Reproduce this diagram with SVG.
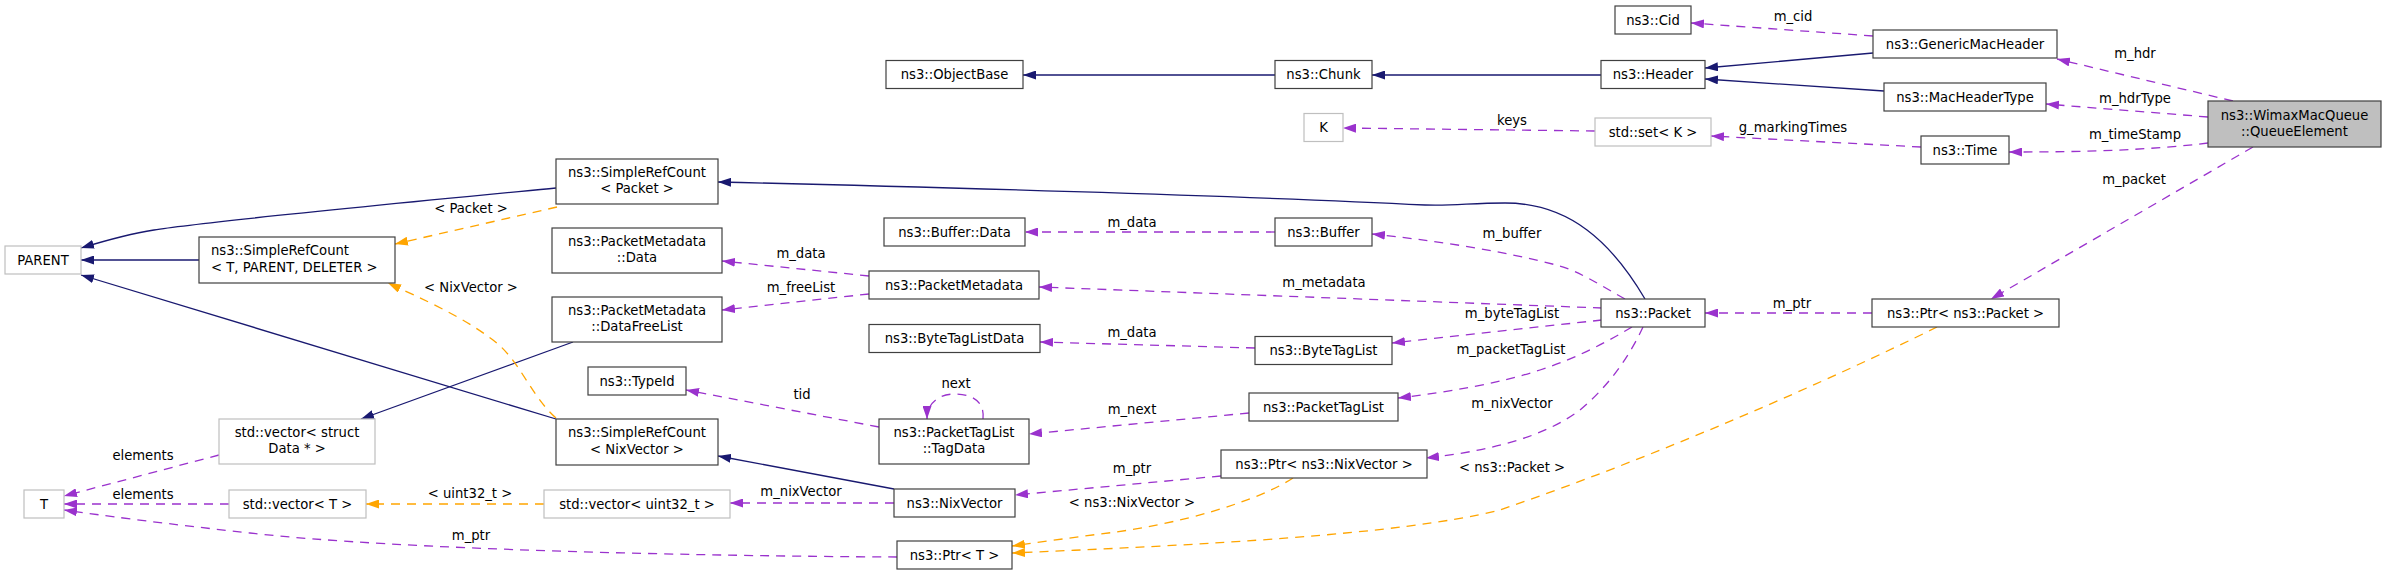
<svg xmlns="http://www.w3.org/2000/svg" width="2387" height="576" viewBox="0 0 2387 576">
<style>
text{font-family:"DejaVu Sans","Liberation Sans",sans-serif;font-size:13.2px;fill:#000}
.nt{text-anchor:middle}
.lb{text-anchor:middle}
.box{fill:#fff;stroke:#404040;stroke-width:1.2}
.ubox{fill:#fff;stroke:#bfbfbf;stroke-width:1.2}
.cur{fill:#bfbfbf;stroke:#404040;stroke-width:1.2}
.inh{fill:none;stroke:#191970;stroke-width:1.3;marker-end:url(#ab)}
.use{fill:none;stroke:#9a32cd;stroke-width:1.3;stroke-dasharray:9,7;marker-end:url(#ap)}
.tpl{fill:none;stroke:#ffa500;stroke-width:1.3;stroke-dasharray:9,7;marker-end:url(#ao)}
</style>
<defs>
<marker id="ab" markerUnits="userSpaceOnUse" markerWidth="13" markerHeight="9" viewBox="0 0 13 9" refX="13" refY="4.5" orient="auto"><path d="M0,0 L13,4.5 L0,9 z" fill="#191970"/></marker>
<marker id="ap" markerUnits="userSpaceOnUse" markerWidth="13" markerHeight="9" viewBox="0 0 13 9" refX="13" refY="4.5" orient="auto"><path d="M0,0 L13,4.5 L0,9 z" fill="#9a32cd"/></marker>
<marker id="ao" markerUnits="userSpaceOnUse" markerWidth="13" markerHeight="9" viewBox="0 0 13 9" refX="13" refY="4.5" orient="auto"><path d="M0,0 L13,4.5 L0,9 z" fill="#ffa500"/></marker>
</defs>
<rect width="2387" height="576" fill="#fff"/>
<g id="edges">
<path class="inh" d="M1275,75 L1023,75"/>
<path class="inh" d="M1601,75 L1372,75"/>
<path class="inh" d="M1873,53 L1705,68"/>
<path class="inh" d="M1884,91 L1705,79"/>
<path class="inh" d="M556,188 C390,204 200,222 154,230 C128,234 104,241 81,248"/>
<path class="inh" d="M199,260 L81,260"/>
<path class="inh" d="M556,419 L81,275"/>
<path class="inh" d="M573,342 L361,419"/>
<path class="inh" d="M894,489 L718,456"/>
<path class="inh" d="M1645,299 C1612,243 1570,203 1505,203 C1470,203 1455,206 1425,205 C1250,196 900,186 718,182"/>

<path class="use" d="M1873,36 L1691,23"/>
<path class="use" d="M2233,101 L2057,59"/>
<path class="use" d="M2208,117 L2046,104"/>
<path class="use" d="M2208,143 C2150,150 2090,152 2009,152"/>
<path class="use" d="M2253,147 L1991,299"/>
<path class="use" d="M1921,147 L1711,136"/>
<path class="use" d="M1595,131 L1343,128"/>
<path class="use" d="M1872,313 L1705,313"/>
<path class="use" d="M1625,299 C1600,285 1580,272 1560,266 C1500,250 1430,240 1372,234"/>
<path class="use" d="M1602,308 L1039,287"/>
<path class="use" d="M1602,320 L1392,343"/>
<path class="use" d="M1632,327 C1610,340 1580,357 1540,370 C1500,383 1450,392 1398,398"/>
<path class="use" d="M1643,327 C1630,355 1610,385 1580,410 C1540,440 1480,452 1426,458"/>
<path class="use" d="M1275,232 L1025,232"/>
<path class="use" d="M1255,348 L1040,342"/>
<path class="use" d="M1249,413 L1029,434"/>
<path class="use" d="M1221,476 L1015,495"/>
<path class="use" d="M869,276 L722,261"/>
<path class="use" d="M869,294 L722,310"/>
<path class="use" d="M879,427 L686,390"/>
<path class="use" d="M983,419 C985,400 970,394 955,394 C940,394 927,402 927,419"/>
<path class="use" d="M894,503 L730,503"/>
<path class="use" d="M219,455 L64,496"/>
<path class="use" d="M229,504 L64,504"/>
<path class="use" d="M897,557 C700,556 400,550 250,533 C150,522 100,515 64,510"/>

<path class="tpl" d="M557,207 L395,244"/>
<path class="tpl" d="M556,418 C530,395 520,360 493,340 C460,315 420,298 388,283"/>
<path class="tpl" d="M544,504 L366,504"/>
<path class="tpl" d="M1293,478 C1260,500 1180,525 1100,534 C1070,538 1040,542 1012,546"/>
<path class="tpl" d="M1937,327 C1830,380 1660,455 1500,510 C1400,535 1200,545 1012,553"/>

<text class="lb" x="1793" y="21">m_cid</text>
<text class="lb" x="2135" y="58">m_hdr</text>
<text class="lb" x="2135" y="103">m_hdrType</text>
<text class="lb" x="2135" y="139">m_timeStamp</text>
<text class="lb" x="2134" y="184">m_packet</text>
<text class="lb" x="1793" y="132">g_markingTimes</text>
<text class="lb" x="1512" y="125">keys</text>
<text class="lb" x="1792" y="308">m_ptr</text>
<text class="lb" x="1512" y="238">m_buffer</text>
<text class="lb" x="1324" y="287">m_metadata</text>
<text class="lb" x="1512" y="318">m_byteTagList</text>
<text class="lb" x="1511" y="354">m_packetTagList</text>
<text class="lb" x="1512" y="408">m_nixVector</text>
<text class="lb" x="1132" y="227">m_data</text>
<text class="lb" x="1132" y="337">m_data</text>
<text class="lb" x="1132" y="414">m_next</text>
<text class="lb" x="1132" y="473">m_ptr</text>
<text class="lb" x="801" y="258">m_data</text>
<text class="lb" x="801" y="292">m_freeList</text>
<text class="lb" x="802" y="399">tid</text>
<text class="lb" x="956" y="388">next</text>
<text class="lb" x="801" y="496">m_nixVector</text>
<text class="lb" x="143" y="460">elements</text>
<text class="lb" x="143" y="499">elements</text>
<text class="lb" x="471" y="540">m_ptr</text>
<text class="lb" x="471" y="213">&lt; Packet &gt;</text>
<text class="lb" x="471" y="292">&lt; NixVector &gt;</text>
<text class="lb" x="470" y="498">&lt; uint32_t &gt;</text>
<text class="lb" x="1132" y="507">&lt; ns3::NixVector &gt;</text>
<text class="lb" x="1512" y="472">&lt; ns3::Packet &gt;</text>
</g>

<g id="n_QueueElement"><rect class="cur" x="2208" y="101" width="173" height="46"/><text class="nt" x="2294.5" y="119.5">ns3::WimaxMacQueue</text><text class="nt" x="2294.5" y="136">::QueueElement</text></g>
<g id="n_GenericMacHeader"><rect class="box" x="1873" y="30" width="184" height="28"/><text class="nt" x="1965" y="48.5">ns3::GenericMacHeader</text></g>
<g id="n_Cid"><rect class="box" x="1615" y="6" width="76" height="28"/><text class="nt" x="1653" y="24.5">ns3::Cid</text></g>
<g id="n_Header"><rect class="box" x="1601" y="60.5" width="104" height="28"/><text class="nt" x="1653" y="79">ns3::Header</text></g>
<g id="n_Chunk"><rect class="box" x="1275" y="60.5" width="97" height="28"/><text class="nt" x="1323.5" y="79">ns3::Chunk</text></g>
<g id="n_ObjectBase"><rect class="box" x="886" y="60.5" width="137" height="28"/><text class="nt" x="954.5" y="79">ns3::ObjectBase</text></g>
<g id="n_MacHeaderType"><rect class="box" x="1884" y="83" width="162" height="28"/><text class="nt" x="1965" y="101.5">ns3::MacHeaderType</text></g>
<g id="n_K"><rect class="ubox" x="1304" y="113.5" width="39" height="28"/><text class="nt" x="1323.5" y="132">K</text></g>
<g id="n_setK"><rect class="ubox" x="1595" y="118" width="116" height="28"/><text class="nt" x="1653" y="136.5">std::set&lt; K &gt;</text></g>
<g id="n_Time"><rect class="box" x="1921" y="136" width="88" height="28"/><text class="nt" x="1965" y="154.5">ns3::Time</text></g>
<g id="n_SRCPacket"><rect class="box" x="556" y="159" width="162" height="45"/><text class="nt" x="637" y="176.5">ns3::SimpleRefCount</text><text class="nt" x="637" y="193">&lt; Packet &gt;</text></g>
<g id="n_PARENT"><rect class="ubox" x="5" y="246" width="76" height="28"/><text class="nt" x="43" y="264.5">PARENT</text></g>
<g id="n_SRCT"><rect class="box" x="199" y="237" width="196" height="46"/><text x="211" y="255">ns3::SimpleRefCount</text><text x="211" y="271.5">&lt; T, PARENT, DELETER &gt;</text></g>
<g id="n_BufferData"><rect class="box" x="884" y="218" width="141" height="28"/><text class="nt" x="954.5" y="236.5">ns3::Buffer::Data</text></g>
<g id="n_Buffer"><rect class="box" x="1275" y="218" width="97" height="28"/><text class="nt" x="1323.5" y="236.5">ns3::Buffer</text></g>
<g id="n_PMData"><rect class="box" x="552" y="228" width="170" height="45"/><text class="nt" x="637" y="245.5">ns3::PacketMetadata</text><text class="nt" x="637" y="262">::Data</text></g>
<g id="n_PacketMetadata"><rect class="box" x="869" y="271" width="170" height="28"/><text class="nt" x="954" y="289.5">ns3::PacketMetadata</text></g>
<g id="n_Packet"><rect class="box" x="1601" y="299" width="104" height="28"/><text class="nt" x="1653" y="317.5">ns3::Packet</text></g>
<g id="n_PtrPacket"><rect class="box" x="1872" y="299" width="187" height="28"/><text class="nt" x="1965.5" y="317.5">ns3::Ptr&lt; ns3::Packet &gt;</text></g>
<g id="n_DataFreeList"><rect class="box" x="552" y="297" width="170" height="45"/><text class="nt" x="637" y="314.5">ns3::PacketMetadata</text><text class="nt" x="637" y="331">::DataFreeList</text></g>
<g id="n_ByteTagListData"><rect class="box" x="869" y="324.5" width="171" height="28"/><text class="nt" x="954.5" y="343">ns3::ByteTagListData</text></g>
<g id="n_ByteTagList"><rect class="box" x="1255" y="336.5" width="137" height="28"/><text class="nt" x="1323.5" y="355">ns3::ByteTagList</text></g>
<g id="n_TypeId"><rect class="box" x="588" y="367" width="98" height="28"/><text class="nt" x="637" y="385.5">ns3::TypeId</text></g>
<g id="n_PacketTagList"><rect class="box" x="1249" y="393" width="149" height="28"/><text class="nt" x="1323.5" y="411.5">ns3::PacketTagList</text></g>
<g id="n_vecData"><rect class="ubox" x="219" y="419" width="156" height="45"/><text class="nt" x="297" y="436.5">std::vector&lt; struct</text><text class="nt" x="297" y="453">Data * &gt;</text></g>
<g id="n_SRCNix"><rect class="box" x="556" y="419" width="162" height="46"/><text class="nt" x="637" y="437">ns3::SimpleRefCount</text><text class="nt" x="637" y="453.5">&lt; NixVector &gt;</text></g>
<g id="n_TagData"><rect class="box" x="879" y="419" width="150" height="45"/><text class="nt" x="954" y="436.5">ns3::PacketTagList</text><text class="nt" x="954" y="453">::TagData</text></g>
<g id="n_PtrNix"><rect class="box" x="1221" y="450" width="206" height="28"/><text class="nt" x="1324" y="468.5">ns3::Ptr&lt; ns3::NixVector &gt;</text></g>
<g id="n_T"><rect class="ubox" x="24" y="490" width="40" height="28"/><text class="nt" x="44" y="508.5">T</text></g>
<g id="n_vecT"><rect class="ubox" x="229" y="490" width="137" height="28"/><text class="nt" x="297.5" y="508.5">std::vector&lt; T &gt;</text></g>
<g id="n_vecU32"><rect class="ubox" x="544" y="490" width="186" height="28"/><text class="nt" x="637" y="508.5">std::vector&lt; uint32_t &gt;</text></g>
<g id="n_NixVector"><rect class="box" x="894" y="489" width="121" height="28"/><text class="nt" x="954.5" y="507.5">ns3::NixVector</text></g>
<g id="n_PtrT"><rect class="box" x="897" y="541" width="115" height="28"/><text class="nt" x="954.5" y="559.5">ns3::Ptr&lt; T &gt;</text></g>
</svg>
